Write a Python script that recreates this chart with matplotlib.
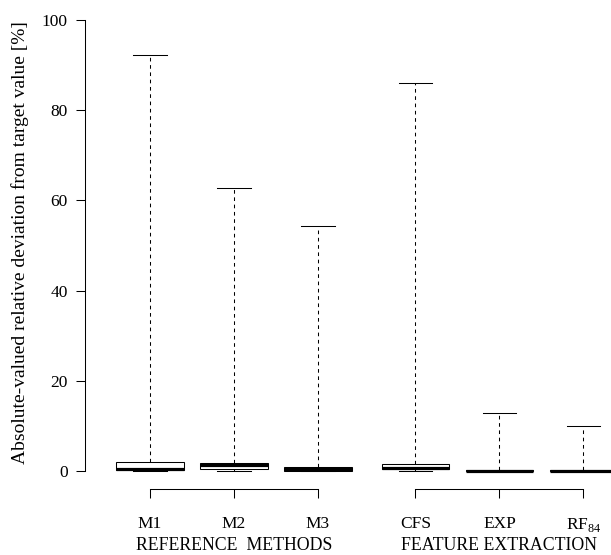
import matplotlib
matplotlib.use("Agg")
import matplotlib.pyplot as plt

plt.rcParams["font.family"] = ["Liberation Serif", "DejaVu Serif"]
plt.rcParams["mathtext.fontset"] = "custom"
plt.rcParams["mathtext.rm"] = "Liberation Serif"

# values (percent)
labels = ["M1", "M2", "M3", "CFS", "EXP", r"RF$_{\mathregular{84}}$"]
positions = [1, 2, 3, 4.16, 5.16, 6.16]
whis_lo = [0.0, 0.0, 0.0, 0.0, 0.0, 0.0]
q1 = [0.15, 0.45, 0.1, 0.35, 0.0, 0.0]
medians = [0.4, 1.3, 0.35, 0.7, 0.05, 0.05]
q3 = [2.0, 1.75, 0.8, 1.6, 0.15, 0.12]
whis_hi = [92.2, 62.8, 54.3, 86.1, 12.9, 9.9]

groups = ["REFERENCE  METHODS", "FEATURE EXTRACTION"]
group_members = [[0, 1, 2], [3, 4, 5]]

stats = [
    dict(whislo=lo, q1=a, med=m, q3=b, whishi=hi, fliers=[])
    for lo, a, m, b, hi in zip(whis_lo, q1, medians, q3, whis_hi)
]

W, H = 611, 555
fig = plt.figure(figsize=(W / 100, H / 100), dpi=100)
ax = fig.add_axes([85 / W, (H - 489) / H, (W - 85) / W, 469 / H])

lw = 0.75
ax.bxp(
    stats,
    positions=positions,
    widths=0.8,
    capwidths=0.4,
    patch_artist=True,
    showfliers=False,
    boxprops=dict(facecolor="white", edgecolor="black", linewidth=lw),
    medianprops=dict(color="black", linewidth=2.3, solid_capstyle="butt"),
    whiskerprops=dict(color="black", linewidth=lw, linestyle=(0, (3.5, 3.5))),
    capprops=dict(color="black", linewidth=lw),
)

ax.set_xlim(1 - 65 / 84, 1 + (W - 150) / 84)
ax.set_ylim(-18 / 4.51, 100)

for side in ["top", "right", "bottom"]:
    ax.spines[side].set_visible(False)
ax.spines["left"].set_bounds(0, 100)
ax.spines["left"].set_linewidth(lw)

ax.set_yticks([0, 20, 40, 60, 80, 100])
ax.tick_params(axis="y", length=6.5, width=lw, pad=6, labelsize=12.5)
ax.set_xticks(positions)
ax.set_xticklabels(labels)
ax.tick_params(axis="x", length=6.5, width=lw, pad=13, labelsize=12.5)

# group brackets under the boxes
trans = ax.get_xaxis_transform()
for name, members in zip(groups, group_members):
    xs = [positions[members[0]], positions[members[-1]]]
    ax.plot(xs, [0, 0], color="black", linewidth=lw, transform=trans, clip_on=False)
    ax.text(positions[members[1]], -(545 - 489) / 469, name, transform=trans,
            ha="center", va="center", fontsize=12.8)

fig.text(20 / W, (H - 242.5) / H,
         "Absolute-valued relative deviation from target value [%]",
         rotation=90, ha="center", va="center", fontsize=14)

fig.savefig("out.png", dpi=100)
